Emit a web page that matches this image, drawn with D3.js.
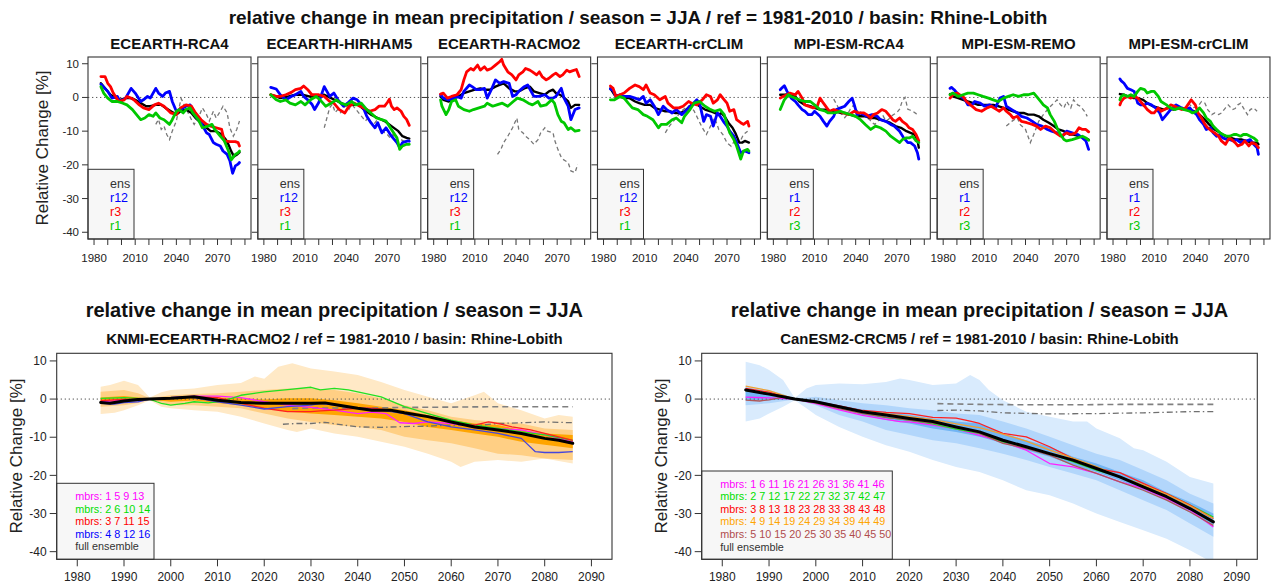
<!DOCTYPE html>
<html><head><meta charset="utf-8">
<script src="https://cdn.jsdelivr.net/npm/d3@7"></script>
<style>
body{margin:0;background:#fff}
svg{display:block}
text{font-family:"Liberation Sans",Arial,Helvetica,sans-serif;fill:#111}
</style>
</head><body>
<svg id="chart" width="1275" height="587"></svg>
<script>
// ---------- axes ----------
const yTicks = [10, 0, -10, -20, -30, -40];
const xTicks = [1980, 1990, 2000, 2010, 2020, 2030, 2040, 2050, 2060, 2070, 2080, 2090];
const topXLabels = [1980, 2010, 2040, 2070];

// ---------- top row: members of the small ensembles ([year, % change]) ----------
const topTitles = ["ECEARTH-RCA4", "ECEARTH-HIRHAM5", "ECEARTH-RACMO2", "ECEARTH-crCLIM",
                   "MPI-ESM-RCA4", "MPI-ESM-REMO", "MPI-ESM-crCLIM"];
const topLabels = [["ens","r12","r3","r1"],["ens","r12","r3","r1"],["ens","r12","r3","r1"],["ens","r12","r3","r1"],
                   ["ens","r1","r2","r3"],["ens","r1","r2","r3"],["ens","r1","r2","r3"]];

const rca4_ens = [[1985,4.2],[1988,2.7],[1992,0.8],[1996,-0.2],[1999,-0.7],[2003,-0.2],[2007,-0.2],[2010,-0.7],[2014,-1.7],[2018,-2.6],[2021,-2.6],[2025,-2.2],[2029,-2.2],[2032,-3.1],[2036,-4.1],[2040,-5.1],[2043,-4.1],[2047,-3.6],[2051,-4.6],[2054,-6.1],[2058,-7.5],[2062,-9],[2065,-10],[2069,-10],[2073,-11],[2076,-12.5],[2078,-14],[2080,-16],[2082,-17.5],[2084,-17],[2086,-16.3]];
const rca4_r12 = [[1985,3.9],[1990,1.8],[1993,-0.2],[1997,0.3],[1999,-1.2],[2003,-0.2],[2007,2.7],[2010,1.3],[2014,-1.2],[2016,-0.7],[2019,0.3],[2021,-0.2],[2025,2.7],[2027,1.3],[2030,0.3],[2032,1.3],[2035,1.8],[2037,-1.2],[2040,-4.1],[2042,-3.6],[2045,-3.1],[2047,-2.6],[2050,-2.2],[2052,-3.6],[2054,-5.6],[2058,-7.5],[2062,-10.5],[2064,-11],[2067,-13.4],[2069,-13.9],[2072,-14.4],[2074,-15.9],[2077,-16.9],[2079,-18.8],[2081,-22.5],[2083,-20.3],[2085,-19.8],[2086,-19.3]];
const rca4_r3 = [[1985,6.2],[1988,6.2],[1990,4.2],[1992,3.2],[1994,1.3],[1998,-1.2],[2002,-0.7],[2004,0.3],[2007,-0.2],[2009,-0.7],[2013,-2.2],[2016,-3.1],[2020,-3.6],[2024,-2.2],[2027,-1.7],[2031,-2.6],[2036,-4.6],[2040,-5.1],[2043,-3.1],[2047,-2.2],[2051,-2.6],[2054,-4.6],[2058,-6.6],[2062,-8],[2065,-8.5],[2069,-9],[2073,-9.5],[2075,-12.9],[2079,-13.1],[2083,-13.1],[2085,-13.4],[2086,-14.4]];
const rca4_r1 = [[1985,3.2],[1987,1.3],[1990,-0.2],[1993,-1.2],[1997,-1.2],[2001,-1.7],[2004,-2.2],[2008,-3.6],[2012,-5.6],[2014,-6.6],[2017,-6.1],[2020,-5.1],[2023,-5.6],[2025,-4.6],[2028,-6.1],[2031,-6.6],[2035,-8],[2037,-6.6],[2040,-4.1],[2042,-3.6],[2045,-4.6],[2047,-3.6],[2050,-3.1],[2052,-4.6],[2056,-6.6],[2059,-9],[2063,-8.5],[2066,-8],[2068,-9.5],[2072,-11.5],[2075,-12.9],[2078,-15.9],[2080,-18.5],[2083,-16.9],[2085,-16.4],[2086,-15.9]];
const rca4_ref = [[2025,-8],[2027,-6.5],[2029,-9.5],[2031,-8.5],[2033,-11],[2035,-12.5],[2037,-10],[2040,-7],[2042,-3],[2043.5,-0.3],[2046,-2.5],[2048,-4.1],[2051,-6.6],[2053,-8],[2057,-5.1],[2059,-3.1],[2062,-5.1],[2064,-7],[2067,-4.1],[2069,-6.1],[2072,-4.1],[2074,-2.6],[2077,-4.6],[2079,-9],[2081.5,-11.5],[2084,-9.5],[2086,-7]];

const hirham_ens = [[1985,0.8],[1989,0.3],[1992,-0.2],[1998,0.3],[2003,0.8],[2008,0.8],[2013,0.3],[2018,0.3],[2024,0.8],[2029,-0.2],[2034,-1.2],[2039,-2.2],[2044,-2.2],[2049,-2.2],[2053,-3.6],[2058,-5.1],[2063,-6.1],[2068,-7],[2073,-8.5],[2078,-10],[2081,-11.5],[2084,-12],[2086,-12.2]];
const hirham_r12 = [[1985,3.0],[1989,2.5],[1992,0.8],[1996,-0.7],[2000,0.3],[2003,0.8],[2007,1.8],[2009,0.3],[2012,-0.7],[2015,-2],[2017,-3.6],[2020,-1.5],[2024,3.2],[2028,0.3],[2031,1.3],[2034,-0.7],[2038,-2.6],[2041,-1.7],[2045,-0.2],[2048,-0.7],[2052,-2.6],[2055,-5.6],[2058,-7.5],[2061,-9],[2063,-7.5],[2066,-10.5],[2069,-9],[2073,-11.5],[2077,-13.4],[2079,-14.9],[2081,-13.4],[2085,-12.9],[2086,-13]];
const hirham_r3 = [[1985,0.8],[1989,0.3],[1992,0.3],[1996,0.8],[2000,1.5],[2003,2.3],[2007,2.7],[2009,3.4],[2012,2.3],[2015,0.8],[2020,0.8],[2024,0.3],[2028,-1.2],[2031,-1.7],[2035,-3.6],[2039,-4.6],[2042,-2.6],[2046,-1.7],[2050,-2.6],[2053,-3.1],[2057,-4.1],[2061,-3.6],[2064,-2.6],[2068,-2.6],[2070,-1.5],[2071.5,-0.5],[2073,-2.6],[2075,-3.6],[2077,-3.1],[2080,-4.1],[2082,-5.6],[2084,-6.5],[2086,-8.3]];
const hirham_r1 = [[1985,0.8],[1989,-0.7],[1992,-1.2],[1996,-0.7],[1999,-1.7],[2003,-2.2],[2007,-1.2],[2010,-2.2],[2014,-0.7],[2018,0.3],[2021,-0.7],[2025,-2.6],[2029,-1.7],[2033,-0.7],[2036,-1.7],[2040,-2.2],[2044,-1.2],[2047,-2.2],[2051,-1.7],[2055,-3.6],[2058,-4.6],[2062,-6.1],[2066,-6.6],[2069,-7],[2073,-9.5],[2077,-12],[2079,-15.4],[2081,-14.4],[2084,-13.9],[2086,-13.9]];
const hirham_ref = [[2024,-9],[2026,-6],[2028,-3],[2030,-2],[2032,-4.5],[2034,-3.5],[2036,-4.5],[2038,-3],[2040,-2.5],[2042,-3.5],[2044,-2],[2046,-3],[2048,-4],[2050,-5],[2052,-6],[2054,-7],[2056,-6],[2058,-7.5],[2060,-8],[2062,-7],[2064,-8.5],[2066,-9.5],[2068,-10.5],[2070,-11],[2072,-12],[2074,-11],[2076,-12.5],[2078,-13],[2080,-12.5],[2082,-13],[2084,-12.5]];

const racmo_ens = [[1985,0.3],[1987,-0.7],[1991,-1.2],[1995,-0.2],[1998,0.3],[2002,1.3],[2006,1.8],[2010,2.3],[2014,2.7],[2017,2.3],[2021,2.3],[2025,3.2],[2028,3.7],[2031,4.2],[2035,2.7],[2039,1.8],[2042,1.8],[2046,2.7],[2050,3.2],[2053,1.8],[2057,1.3],[2061,0.8],[2064,1.8],[2067,2.3],[2069,1.3],[2072,0.8],[2074,0.3],[2078,-1.2],[2080,-3.1],[2083,-2.2],[2086,-2.2]];
const racmo_r12 = [[1985,0.8],[1987,-0.2],[1991,-0.7],[1995,-0.2],[1997,0.3],[2000,-0.2],[2002,1.8],[2006,3.7],[2008,3.2],[2011,2.3],[2014,2.3],[2017,2.7],[2019,-0.2],[2022,2.3],[2025,5.2],[2028,4.2],[2031,4.7],[2035,4.2],[2037.5,0.3],[2040,0.8],[2042,1.8],[2046,3.2],[2048.5,3.7],[2051,1.8],[2053,0.3],[2057,0.3],[2061,0.8],[2064,-0.2],[2067,-0.2],[2069,0.3],[2073,2.7],[2075,-0.2],[2078,-2.6],[2080,-6.6],[2083,-3.6],[2086,-3.1]];
const racmo_r3 = [[1985,1],[1987,1.3],[1990,-0.2],[1993,0.3],[1997,0.8],[2000,2.3],[2002,5.2],[2004,7.6],[2007,8.6],[2009,8.1],[2012,9.6],[2014,8.1],[2017,9.1],[2019,8.1],[2022,8.6],[2025,9.6],[2028,10.6],[2029.6,11.3],[2031,9.6],[2034,7.6],[2037,6.7],[2040,5.2],[2042,6.7],[2045,7.6],[2047,8.6],[2050,8.1],[2052,7.6],[2055,6.7],[2057,7.6],[2059,6.2],[2062,5.2],[2064,5.7],[2067,6.7],[2069,7.2],[2072,6.2],[2074,6.7],[2077,8.1],[2079,7.6],[2081,7.9],[2084,8.3],[2086,6.2]];
const racmo_r1 = [[1985,-0.7],[1986,-2.6],[1989,-5.1],[1991,-3.6],[1993,-1.2],[1996,-0.7],[1998,-2.6],[2002,-3.6],[2006,-4.1],[2009,-3.6],[2013,-3.1],[2017,-2.6],[2019,-1.7],[2023,-2.6],[2026,-2.2],[2030,-1.7],[2034,-2.6],[2038,-1.2],[2041,-0.2],[2045,-0.7],[2049,-1.7],[2052,-2.2],[2056,-1.2],[2058,-2.6],[2062,-2.2],[2066,-0.7],[2068,-1.7],[2070.5,-5.1],[2073,-7.1],[2075,-7.5],[2078,-9.5],[2080,-9],[2083,-10],[2086,-9.8]];
const racmo_ref = [[2026.5,-16.9],[2029,-15.4],[2031,-13.4],[2034,-11.5],[2037.5,-9],[2040.6,-6.1],[2042,-9.5],[2045,-10.5],[2047,-11.5],[2050,-12.5],[2053,-13.9],[2056,-12.5],[2058,-10.5],[2061,-9],[2063,-10],[2067,-10.5],[2068,-12.5],[2070.5,-15.4],[2073,-17.8],[2074,-18.3],[2078,-19.3],[2080,-21.8],[2083,-22.3],[2085,-19.8]];

const crclim_ens = [[1985,2.7],[1988,0.8],[1992,0.3],[1995,-0.2],[1999,-0.2],[2003,-1.2],[2006,-1.7],[2010,-2.2],[2014,-2.2],[2017,-3.1],[2021,-3.6],[2025,-4.1],[2028,-4.1],[2032,-4.6],[2036,-4.6],[2039,-4.1],[2043,-2.6],[2047,-1.7],[2050,-2.6],[2054,-3.6],[2058,-4.1],[2061,-4.6],[2064,-5.1],[2066,-4.6],[2069,-6.1],[2071,-7.5],[2074,-9],[2076,-10.5],[2079,-13.4],[2081,-13.4],[2083,-12.9],[2086,-13.4]];
const crclim_r12 = [[1985,2.5],[1987,2.1],[1989,0.3],[1992,0.8],[1995,0.3],[1999,0.3],[2003,-0.2],[2006,-0.7],[2009,0.3],[2011,-1.7],[2014,-0.7],[2017,-2.6],[2020,-5.1],[2023.5,-2.6],[2026,-3.6],[2030,-4.6],[2033,-3.6],[2037,-5.1],[2041,-3.6],[2043,-2.6],[2045.5,-1.7],[2048,-0.7],[2050,-1.7],[2053,-7.1],[2055,-5.1],[2058,-5.6],[2060,-8.5],[2063,-4.6],[2065,-5.6],[2068,-7.5],[2070,-8.5],[2072,-10],[2075,-11.5],[2077,-13.4],[2080,-16.4],[2083,-15.9],[2086,-16.4]];
const crclim_r3 = [[1985,3.4],[1987,2.7],[1989,0.3],[1992,0.8],[1995,1.3],[1999,2.7],[2003,3.7],[2006,3.2],[2009,2.3],[2011,3.7],[2014,1.3],[2017,0.8],[2021,-0.7],[2025,0.3],[2027,-1.7],[2031,-3.1],[2035,-3.1],[2038,-2.6],[2042,-1.2],[2044,-1.7],[2048,-2.2],[2052,-0.7],[2055,0.8],[2058,0.3],[2060,-1.7],[2063,-0.7],[2065,0.8],[2068,-0.7],[2070,-1.7],[2072,-4.1],[2075,-3.6],[2077,-6.6],[2080,-7.5],[2082,-8],[2085,-7.1],[2086,-8.5]];
const crclim_r1 = [[1985,-0.7],[1988,-0.7],[1992,0.3],[1995,-0.2],[1998,-1.7],[2001,-3.1],[2005,-3.6],[2009,-5.1],[2012,-5.6],[2016,-6.6],[2020,-9],[2022,-8],[2026,-8],[2030,-6.6],[2033,-6.1],[2037,-7.5],[2039,-5.6],[2043,-3.6],[2046,-1.7],[2050,-1.2],[2054,-2.6],[2058,-3.6],[2061,-4.1],[2065,-3.6],[2068,-5.1],[2070,-8],[2072,-10.5],[2075,-12.5],[2077,-14.4],[2080,-18.3],[2082,-15.9],[2085,-15.4],[2086,-15.9]];
const crclim_ref = [[2025,-10.5],[2028,-8.5],[2031,-7],[2034,-5.5],[2037,-4],[2040,-3],[2043,-2.5],[2046,-4],[2049,-6.5],[2052,-9],[2055,-11],[2058,-8.5],[2061,-6],[2064,-9.5],[2067,-11],[2070,-13.5],[2073,-14.5],[2076,-12.5],[2079,-13.5],[2082,-11],[2085,-10]];

const mrca4_ens = [[1985,0.8],[1988,0.8],[1992,1],[1996,0.3],[1999,-1.2],[2003,-2.2],[2007,-2.6],[2010,-3.1],[2014,-3.6],[2018,-3.6],[2021,-4.1],[2025,-4.1],[2029,-4.6],[2032,-4.6],[2036,-5.1],[2040,-5.6],[2043,-5.6],[2047,-5.6],[2051,-6.1],[2054,-6.1],[2058,-6.6],[2062,-7.1],[2065,-7.5],[2069,-8.5],[2073,-9],[2077,-10],[2080,-10.5],[2083,-11],[2085,-12.5],[2086,-14.9]];
const mrca4_r1 = [[1985,2.3],[1986,2.7],[1988,3.5],[1990,1.8],[1993,-0.2],[1996,-1.2],[1998,-2.2],[2001,-3.6],[2003,-4.1],[2005.5,-5.1],[2008,-5.1],[2010,-4.1],[2014,-5.6],[2016.5,-7.1],[2019,-8.5],[2021,-7.1],[2024,-5.6],[2026,-3.6],[2029,-3.1],[2032,-2.6],[2035,-1.2],[2037.4,-0.2],[2039,-2.2],[2041,-5.1],[2043.5,-4.6],[2046,-5.1],[2048,-5.6],[2052,-5.1],[2055.7,-5.6],[2058,-6.6],[2062,-7.1],[2065.5,-8],[2068,-8.5],[2072,-10],[2075,-12],[2078,-13.4],[2080,-13.4],[2083,-14.4],[2085,-16.4],[2086,-18.3]];
const mrca4_r2 = [[1985,-0.2],[1987,0.3],[1990,0.8],[1992,1.3],[1996,0.8],[1998,1.8],[2001,-0.2],[2003,-2.2],[2005.5,-2.6],[2009,-3.1],[2012,-2.6],[2014,-0.2],[2016.5,-1.7],[2019,-3.1],[2021,-4.1],[2024,-3.6],[2027.5,-4.1],[2031,-4.6],[2035,-5.1],[2039,-4.1],[2042,-4.6],[2046,-4.6],[2048,-5.1],[2051,-6.1],[2053,-5.1],[2056,-4.6],[2059,-3.6],[2062,-4.1],[2064,-5.1],[2067,-6.6],[2069,-7.1],[2072,-6.1],[2074,-7.1],[2077,-8],[2079,-9],[2081.5,-9.5],[2084,-11],[2086,-12.9]];
const mrca4_r3 = [[1985,-3.6],[1986,-2.6],[1988,-0.7],[1991,0.8],[1993,0.3],[1996,-0.2],[1999,-0.7],[2003,-1.2],[2007,-1.2],[2010,-2.2],[2014,-3.6],[2018,-4.1],[2020,-4.6],[2025,-4.6],[2029,-4.1],[2032,-4.6],[2036,-5.1],[2040,-5.6],[2043.5,-6.6],[2047,-8],[2051,-9.5],[2054.5,-8.5],[2058,-9],[2062,-10],[2065.5,-11.5],[2069,-12.5],[2072,-13.4],[2074,-12.5],[2077,-12],[2079,-12],[2081.5,-11.5],[2084,-12.9],[2086,-13.4]];
const mrca4_ref = [[2024,-0.5],[2026,-2],[2028,-3.5],[2030,-5],[2032,-6],[2034,-5],[2036,-3.5],[2038,-2.5],[2040,-3],[2042,-4.5],[2044,-5],[2046,-5.5],[2048,-6],[2050,-6.5],[2052,-7.5],[2054,-8],[2056,-7],[2058,-6.5],[2060,-5.5],[2062,-7],[2064,-6.5],[2066,-5.5],[2068,-5],[2070,-4.5],[2072,-3.5],[2074,-1],[2076,0],[2078,-3.5],[2080,-3.8],[2082,-4.2],[2084,-4.8],[2086,-5]];

const mremo_ens = [[1985,1.0],[1987,0.3],[1991,-0.2],[1994.5,-0.7],[1998,-1.2],[2002,-1.7],[2005.5,-2.2],[2009,-2.2],[2013,-2.2],[2016.5,-2.2],[2020,-2.6],[2024,-3.1],[2027.5,-3.6],[2031,-4.1],[2035,-4.6],[2038.6,-4.6],[2042,-5.1],[2046,-5.1],[2049.6,-5.6],[2053,-6.6],[2057,-7.5],[2060.6,-8.5],[2064,-9.5],[2068,-10],[2072,-11],[2075,-11],[2079,-11.5],[2083,-12],[2086,-12.5]];
const mremo_r1 = [[1985,2.7],[1986,3.0],[1988,2.3],[1991,0.8],[1993,0.3],[1996,-0.7],[1998,-2.2],[2001,-2.2],[2003,-1.2],[2007,-1.7],[2010,-2.6],[2014,-2.2],[2018,-3.1],[2021.4,-0.2],[2024,0.3],[2026,-2.6],[2030,-3.6],[2034,-4.6],[2037,-5.6],[2041,-6.1],[2045,-7.1],[2048,-8],[2052,-8.5],[2056,-9.5],[2059,-10],[2063,-10.5],[2067,-11.5],[2070,-10],[2074,-10.5],[2078,-11],[2081.5,-12],[2084,-12.9],[2086,-15.4]];
const mremo_r2 = [[1985,-0.2],[1987,0.8],[1990,1.3],[1992,0.8],[1994.5,0.3],[1997,-1.2],[2001,-2.6],[2004,-3.6],[2008,-4.1],[2012,-3.1],[2015,-2.6],[2019,-3.6],[2021,-4.1],[2024,-3.1],[2026,-4.1],[2029,-5.1],[2031,-6.1],[2034,-5.6],[2037,-7.1],[2041,-7.5],[2045,-8],[2048,-8.5],[2051,-9.5],[2054.5,-8.5],[2058,-9],[2062,-10.5],[2065.5,-11.5],[2068,-11],[2070,-10.5],[2073,-11],[2076.6,-10.5],[2079,-9],[2081.5,-9.5],[2084,-9.5],[2086,-10.2]];
const mremo_r3 = [[1985,0.8],[1987,1.3],[1991,0.3],[1994.5,0.8],[1998,1.3],[2002,1.3],[2005.5,0.8],[2009,0.3],[2013,-0.2],[2016.5,-0.7],[2020,-1.2],[2024,-0.2],[2027.5,0.3],[2031,0.8],[2035,0.3],[2038.6,0.8],[2042,0.8],[2046,1.3],[2048,0.3],[2051,-1.2],[2053,-2.2],[2056,-3.1],[2058,-5.1],[2061,-7.1],[2063,-9],[2065.5,-11],[2068,-12.5],[2070,-12.9],[2074,-12.5],[2078,-12],[2081.5,-11.5],[2084,-12],[2086,-12.7]];
const mremo_ref = [[2026,-8.5],[2030,-7.1],[2034,-6],[2036,-8],[2040,-9.5],[2043.5,-13.4],[2046,-11],[2049.6,-7.1],[2053,-5.1],[2057,-3.1],[2060.6,-1.7],[2063,-0.7],[2065.5,-2.2],[2068,-3.1],[2070,-1.2],[2073,-3.1],[2075,-0.7],[2078,-2.2],[2080,-2.6],[2083,-4.1],[2085,-5.6]];

const mcr_ens = [[1985,1.0],[1988,0.8],[1991,0.3],[1995,-0.2],[1998,-0.2],[2002,-0.7],[2005,-1.7],[2009,-2.6],[2013,-3.1],[2017,-3.6],[2020,-3.1],[2024,-3.6],[2028,-3.1],[2032,-3.6],[2035,-3.6],[2039,-4.1],[2043,-5.1],[2047,-6.6],[2050,-8],[2054,-9.5],[2058,-10.5],[2062,-11.5],[2066,-12],[2070,-12.5],[2074,-12.5],[2077,-12.9],[2081,-13.4],[2085,-13.4],[2086,-13.9]];
const mcr_r1 = [[1985,5.5],[1986,4.9],[1988,4.2],[1990.5,2.7],[1993,2.3],[1995.4,1.8],[1998,-1.7],[2000,-2.2],[2003,-2.2],[2005,-1.7],[2008,-2.2],[2011,-3.1],[2014,-4.6],[2016,-6.6],[2019,-5.1],[2022,-3.6],[2026,-2.2],[2030,-3.1],[2033,-3.6],[2036,-3.1],[2038,-4.1],[2041,-5.1],[2043,-6.6],[2046,-8],[2048,-9.5],[2051,-9],[2053,-10.5],[2055.5,-11.5],[2058,-11],[2060,-12],[2063,-12.5],[2065,-12.5],[2068,-12.9],[2070,-12.5],[2073,-13.4],[2075,-12.9],[2077.5,-12.9],[2080,-12.5],[2082.5,-13.9],[2085,-14.9],[2086,-16.9]];
const mcr_r2 = [[1985,-2.2],[1986,-1.2],[1988,-0.2],[1990.5,0.3],[1993,-0.2],[1995.4,0.3],[1998,-0.2],[2000,-1.2],[2003,-2.6],[2005,-3.6],[2008,-4.6],[2010,-4.6],[2013,-3.1],[2015,-4.1],[2017.5,-3.6],[2020,-3.1],[2022,-2.2],[2025,-2.6],[2027,-3.1],[2030,-3.6],[2033,-3.1],[2037,-0.7],[2040,-2.2],[2042,-4.6],[2044.5,-6.1],[2047,-8],[2049,-9],[2052,-10],[2054,-10.5],[2057,-11.5],[2059,-12.9],[2062,-13.9],[2064,-12.5],[2065,-12],[2069,-13.4],[2071,-14.4],[2074,-13.9],[2076,-12.9],[2079,-14.4],[2081,-13.4],[2084,-13.9],[2086,-14.9]];
const mcr_r3 = [[1985,-0.7],[1986,0.3],[1988,0.8],[1990.5,0.3],[1993,0.8],[1995.4,0.3],[1998,1.8],[2000,2.7],[2003,2.3],[2005,1.3],[2008,1.8],[2010,1.8],[2013,0.3],[2015,-1.2],[2019,-2.2],[2020,-2.6],[2022,-3.1],[2025,-3.6],[2028.5,-3.1],[2032,-3.6],[2036,-4.1],[2038,-4.6],[2041,-4.1],[2043,-3.1],[2046,-4.6],[2048,-6.1],[2051,-7.1],[2053,-8.5],[2055.5,-9.5],[2058,-10.5],[2060,-11],[2063,-11.5],[2065,-11.5],[2068,-11],[2070,-11],[2073,-11.5],[2075,-11],[2077.5,-11],[2080,-11.5],[2082.5,-12],[2085,-12.9]];
const mcr_ref = [[2035,-1.7],[2038,-3.1],[2042,-2.6],[2044.5,-1.2],[2047,-1.7],[2049,-3.6],[2052,-5.1],[2054,-4.6],[2057,-5.1],[2059,-4.6],[2062,-3.1],[2064,-2.2],[2067,-3.6],[2069,-3.3],[2071,-2.2],[2073,-1.7],[2075,-3.1],[2078,-5.1],[2080,-3.6],[2082.5,-3.1],[2085,-4.1]];

// ---------- bottom left: KNMI-ECEARTH-RACMO2 (16 members) ----------
const knmiOuterHi = [[1985,3.2],[1987,3.7],[1990,4.8],[1993,3.7],[1995.5,0.4],[1998,1.8],[2000,2.4],[2005,2.8],[2010,3.7],[2015,4.2],[2018,5.9],[2020,5.3],[2023,8.5],[2026,9.4],[2030,8],[2035,7.2],[2040,6.3],[2045,4.5],[2050,2.4],[2055,0.6],[2060,-1.1],[2065,1],[2067,1.9],[2070,-1.1],[2075,-2.9],[2080,-5.1],[2083,-4.2],[2086,-4.6]];
const knmiOuterLo = [[1985,-3.9],[1988,-3.6],[1990,-2.9],[1993,-1.6],[1995.5,-0.3],[1998,-2],[2000,-2.4],[2005,-2.9],[2010,-3.3],[2015,-4.6],[2020,-6.4],[2025,-8.1],[2027,-8.6],[2030,-7.7],[2035,-9],[2040,-9.9],[2045,-11.2],[2050,-12.5],[2055,-14.3],[2060,-16.4],[2062,-17.8],[2065,-16.4],[2070,-16],[2075,-16.4],[2080,-15.6],[2086,-16.9]];
const knmiMidHi = [[1985,1.9],[1990,2.4],[1993,1.5],[1995.5,0.2],[2000,1],[2005,1.3],[2010,1.5],[2015,1.9],[2020,2.4],[2025,2.8],[2030,2.8],[2035,2.4],[2040,1.5],[2045,0.2],[2050,-1.6],[2055,-2.9],[2060,-4.6],[2065,-5.5],[2070,-6],[2075,-6.4],[2080,-7.7],[2086,-8.1]];
const knmiMidLo = [[1985,-2],[1990,-1.6],[1993,-1],[1995.5,-0.2],[2000,-1.6],[2005,-1.6],[2010,-2],[2015,-2.4],[2020,-3.8],[2025,-5.1],[2030,-6],[2035,-6.8],[2040,-7.3],[2045,-8.1],[2050,-9.9],[2055,-10.8],[2060,-11.6],[2065,-12.9],[2070,-14.3],[2075,-14.7],[2080,-15.6],[2086,-16]];
const knmiInHi = [[1985,0.4],[1990,0.8],[1995.5,0.1],[2000,0.4],[2005,0.8],[2010,0.4],[2015,0.2],[2020,-0.1],[2025,0.2],[2030,0.2],[2035,-0.3],[2040,-1.1],[2045,-2],[2050,-2.9],[2055,-4.2],[2060,-5.5],[2065,-6.4],[2070,-6.8],[2075,-8.1],[2080,-9],[2086,-9.4]];
const knmiInLo = [[1985,-1.1],[1990,-0.7],[1995.5,-0.1],[2000,-0.7],[2005,-0.4],[2010,-1],[2015,-1.6],[2020,-2.4],[2025,-3.3],[2030,-3.8],[2035,-4.2],[2040,-4.6],[2045,-5.1],[2050,-6],[2055,-7.3],[2060,-8.1],[2065,-9],[2070,-9.9],[2075,-11.2],[2080,-12],[2086,-12.9]];
const knmiEns = [[1985,-0.9],[1987,-1.1],[1990,-0.5],[1993,-0.1],[1995.5,0],[2000,0.2],[2005,0.6],[2010,-0.3],[2015,-0.9],[2020,-1.1],[2025,-1.1],[2030,-1.1],[2033,-1],[2036,-1.6],[2040,-2.4],[2043,-2.9],[2047,-2.9],[2050,-3.6],[2055,-4.6],[2060,-6],[2065,-7.3],[2070,-8.1],[2075,-9],[2080,-10.3],[2083,-10.8],[2086,-11.6]];
const knmiGroup1 = [[1985,-0.7],[1990,-0.3],[1995.5,0],[2000,0.4],[2005,0.8],[2010,0.8],[2015,0.4],[2020,-0.7],[2025,-1.6],[2030,-2.2],[2035,-2.9],[2040,-3.8],[2043,-3.4],[2046,-3.8],[2049,-6.2],[2052,-6.4],[2055,-6],[2060,-6.4],[2065,-7.3],[2070,-7.7],[2075,-8.1],[2080,-9.4],[2086,-11.2]];
const knmiGroup2 = [[1985,0.2],[1990,0.4],[1995.5,0],[1997,-0.7],[1998,-1.1],[2000,-1.6],[2003,-1.1],[2005,-0.7],[2008,-1],[2010,-0.7],[2013,0.2],[2015,1],[2020,1.9],[2025,2.5],[2030,3.1],[2032,2.4],[2035,2.8],[2038,2.4],[2040,1.9],[2045,0.6],[2050,-2],[2055,-3.8],[2060,-5.5],[2065,-6.8],[2070,-7.7],[2075,-8.6],[2080,-9.4],[2086,-10.8]];
const knmiGroup3 = [[1985,-0.4],[1990,-0.1],[1995.5,0],[2000,0.2],[2005,0.6],[2010,0.4],[2015,-1.1],[2020,-2.4],[2025,-3.3],[2030,-3.3],[2032,-3.1],[2035,-2.9],[2040,-2.4],[2043,-2.4],[2047,-2.9],[2050,-3.8],[2055,-4.6],[2060,-6],[2063,-6.8],[2065,-6.8],[2068,-6],[2070,-6.4],[2073,-7.3],[2077,-8.1],[2080,-9],[2083,-9.9],[2086,-10.8]];
const knmiGroup4 = [[1985,-1.1],[1988,-1.3],[1990,-0.9],[1993,-0.7],[1995.5,0],[2000,0.4],[2003,0.6],[2005,0.4],[2010,-0.7],[2015,-1.6],[2020,-2.6],[2025,-2],[2030,-1.6],[2032,-1.1],[2035,-1.6],[2040,-2.4],[2045,-2.9],[2050,-3.8],[2055,-6],[2060,-7.3],[2065,-8.1],[2070,-9],[2075,-10.3],[2078,-13.8],[2080,-14],[2083,-14],[2086,-13.8]];
const knmiDashed = [[2026,-2.5],[2030,-2.3],[2040,-2.4],[2050,-2.2],[2060,-2.1],[2070,-2],[2080,-2],[2086,-2]];
const knmiDashDot = [[2024,-6.6],[2027,-6.4],[2030,-6.4],[2033,-6.1],[2037,-6.8],[2040,-7.3],[2045,-7.4],[2050,-7.2],[2055,-7.1],[2060,-6.8],[2065,-7],[2070,-6.4],[2075,-6.2],[2080,-6],[2086,-6.2]];
const knmiLegend = ["mbrs: 1 5 9 13", "mbrs: 2 6 10 14", "mbrs: 3 7 11 15", "mbrs: 4 8 12 16", "full ensemble"];

// ---------- bottom right: CanESM2-CRCM5 (50 members) ----------
const canOuterHi = [[1985,9.8],[1988,8.9],[1990,7.6],[1993,5],[1995.5,0.3],[1998,2.8],[2000,3.7],[2005,4.1],[2010,3.9],[2015,4.5],[2018,5.4],[2020,5],[2025,3.7],[2030,4.1],[2033,6.3],[2035,5],[2037,2.4],[2040,-0.3],[2045,-3.3],[2050,-4.6],[2055,-5.9],[2058,-5.9],[2060,-7.7],[2065,-10.3],[2068,-12.9],[2070,-13.4],[2075,-16.4],[2080,-20.4],[2085,-22.1]];
const canOuterLo = [[1985,-5.9],[1988,-5.1],[1990,-3.8],[1993,-2],[1995.5,-0.3],[1998,-2.4],[2000,-4.2],[2005,-7.3],[2010,-9.9],[2015,-12.1],[2020,-13.8],[2025,-16],[2030,-17.8],[2035,-19.1],[2040,-21.3],[2045,-23.9],[2050,-25.2],[2055,-27.4],[2060,-30],[2065,-32.2],[2070,-34.4],[2075,-36.6],[2080,-39.6],[2085,-43]];
const canMidHi = [[1985,3.2],[1990,2.4],[1993,1.3],[1995.5,0.1],[2000,0.6],[2005,-0.3],[2010,-1.1],[2015,-1.6],[2020,-2.4],[2025,-2.9],[2030,-3.8],[2035,-4.2],[2040,-5.9],[2045,-7.7],[2050,-9.9],[2055,-12.1],[2060,-14.3],[2065,-16],[2070,-18.6],[2075,-21.3],[2080,-24.8],[2085,-27.4]];
const canMidLo = [[1985,-1.6],[1990,-1.1],[1995.5,-0.1],[2000,-1.6],[2005,-4.2],[2010,-5.9],[2015,-8.1],[2020,-9.4],[2025,-10.8],[2030,-11.6],[2035,-12.9],[2040,-14.3],[2045,-16],[2050,-17.8],[2055,-19.5],[2060,-21.3],[2065,-23.9],[2070,-26.5],[2075,-29.1],[2080,-32.6],[2085,-36.1]];
const canInHi = [[1985,1.9],[1990,1.3],[1995.5,0.05],[2000,-0.4],[2005,-1.6],[2010,-2.7],[2015,-3.3],[2020,-4.2],[2025,-5.1],[2030,-5.9],[2035,-6.4],[2040,-9],[2045,-10.8],[2050,-12.5],[2055,-15.1],[2060,-16.9],[2065,-19.1],[2070,-21.3],[2075,-24.4],[2080,-27],[2085,-30]];
const canInLo = [[1985,-0.3],[1990,-0.3],[1995.5,-0.05],[2000,-1],[2005,-2.4],[2010,-4.2],[2015,-5.5],[2020,-6.4],[2025,-7.7],[2030,-8.6],[2035,-9.9],[2040,-11.6],[2045,-13.4],[2050,-15.1],[2055,-17.3],[2060,-19.1],[2065,-21.3],[2070,-23.9],[2075,-26.5],[2080,-29.6],[2085,-33.5]];
const canEns = [[1985,2.4],[1988,1.7],[1990,1.3],[1993,0.6],[1995.5,0],[2000,-0.7],[2005,-2],[2010,-3.3],[2015,-4.2],[2020,-5.1],[2025,-5.9],[2030,-7.3],[2035,-8.6],[2040,-10.8],[2045,-12.5],[2050,-14.3],[2055,-16],[2060,-18.2],[2065,-20.4],[2070,-23],[2075,-25.6],[2080,-28.7],[2085,-32.2]];
const canGroup1 = [[1985,0.5],[1990,0.3],[1995.5,0],[2000,-1.2],[2005,-2.8],[2010,-4.3],[2015,-5.3],[2018,-5.9],[2020,-6],[2025,-6.8],[2030,-7.8],[2035,-9.5],[2040,-11.2],[2045,-13.4],[2048,-15.5],[2050,-16.9],[2055,-17.8],[2060,-19.5],[2065,-21.7],[2070,-23.4],[2075,-26.1],[2080,-29.1],[2085,-33.5]];
const canGroup2 = [[1985,2.2],[1990,1.5],[1995.5,0],[2000,-0.9],[2005,-2.2],[2010,-3.5],[2015,-4.8],[2020,-5.5],[2025,-6.5],[2030,-7.9],[2035,-9],[2040,-11.2],[2045,-12.5],[2050,-14.3],[2055,-16.4],[2060,-18.6],[2065,-20.4],[2070,-22.6],[2075,-24.8],[2080,-27.8],[2085,-30.9]];
const canGroup3 = [[1985,2.8],[1990,1.8],[1995.5,0],[2000,-0.7],[2005,-1.8],[2010,-3],[2015,-3.5],[2020,-3.8],[2025,-4.8],[2030,-5],[2033,-5.8],[2035,-6.4],[2040,-9],[2045,-9.9],[2050,-12.5],[2055,-15.6],[2060,-18.2],[2065,-19.3],[2070,-22.1],[2075,-24.8],[2080,-27.8],[2085,-31.3]];
const canGroup4 = [[1985,3.4],[1990,2.2],[1995.5,0],[2000,-0.9],[2005,-2],[2010,-3.2],[2015,-3.8],[2020,-4.6],[2025,-5.4],[2030,-6.5],[2035,-7.5],[2040,-9.2],[2045,-11],[2050,-13.4],[2055,-15.5],[2060,-17.7],[2065,-20.4],[2070,-22.5],[2075,-25],[2080,-28],[2085,-31.3]];
const canGroup5 = [[1985,-0.3],[1988,-0.5],[1990,-0.2],[1993,0.5],[1995.5,0],[2000,-1],[2005,-2.5],[2010,-3.8],[2015,-4.8],[2020,-5.5],[2025,-6.3],[2030,-7.2],[2035,-9],[2040,-11.6],[2045,-12.9],[2050,-14.7],[2055,-17.3],[2060,-19.5],[2065,-21.7],[2070,-23.9],[2075,-26.5],[2080,-29.6],[2085,-33.1]];
const canDashed = [[2026,-1.2],[2035,-1.4],[2045,-1.5],[2055,-1.5],[2065,-1.4],[2075,-1.4],[2085,-1.4]];
const canDashDot = [[2026,-3],[2030,-2.9],[2035,-3.1],[2040,-3.6],[2050,-3.9],[2060,-3.8],[2070,-3.6],[2080,-3.3],[2085,-3.3]];
const canLegend = ["mbrs: 1 6 11 16 21 26 31 36 41 46", "mbrs: 2 7 12 17 22 27 32 37 42 47",
                   "mbrs: 3 8 13 18 23 28 33 38 43 48", "mbrs: 4 9 14 19 24 29 34 39 44 49",
                   "mbrs: 5 10 15 20 25 30 35 40 45 50", "full ensemble"];

// ---------- drawing ----------
const svg = d3.select("#chart");
const xDomain = [1975.6, 2094.4], yDomain = [-42, 12];
const topSeries = [
  [rca4_ens, rca4_r12, rca4_r3, rca4_r1, rca4_ref],
  [hirham_ens, hirham_r12, hirham_r3, hirham_r1, hirham_ref],
  [racmo_ens, racmo_r12, racmo_r3, racmo_r1, racmo_ref],
  [crclim_ens, crclim_r12, crclim_r3, crclim_r1, crclim_ref],
  [mrca4_ens, mrca4_r1, mrca4_r2, mrca4_r3, mrca4_ref],
  [mremo_ens, mremo_r1, mremo_r2, mremo_r3, mremo_ref],
  [mcr_ens, mcr_r1, mcr_r2, mcr_r3, mcr_ref]
];
const memberColors = ["#000000", "#0000ff", "#ff0000", "#00c800"];
const legendTextColors = ["#333333", "#0000ff", "#ff0000", "#00c800"];

let clipId = 0;
function framePanel(g, x, y, opts) {
  const [x0, x1] = x.range(), [y1, y0] = y.range();
  const id = "clip" + (clipId++);
  svg.append("clipPath").attr("id", id).append("rect")
    .attr("x", x0).attr("y", y0).attr("width", x1 - x0).attr("height", y1 - y0);
  const inner = g.append("g").attr("clip-path", `url(#${id})`);
  const tl = opts.tickLen;
  yTicks.forEach(t => {
    g.append("line").attr("x1", x0 - tl).attr("x2", x0).attr("y1", y(t)).attr("y2", y(t))
      .attr("stroke", "#333").attr("stroke-width", 1);
    if (opts.yLabels) g.append("text").attr("x", x0 - tl - 3).attr("y", y(t)).attr("dy", "0.35em")
      .attr("text-anchor", "end").attr("font-size", opts.tickFont).style("fill", "#222").text(t);
  });
  xTicks.forEach(t => {
    g.append("line").attr("x1", x(t)).attr("x2", x(t)).attr("y1", y1).attr("y2", y1 + tl)
      .attr("stroke", "#333").attr("stroke-width", 1);
  });
  opts.xLabels.forEach(t => {
    g.append("text").attr("x", x(t)).attr("y", opts.xLabelY).attr("text-anchor", "middle")
      .attr("font-size", opts.tickFont).style("fill", "#222").text(t);
  });
  return inner;
}
function zeroLine(g, x, y) {
  g.append("line").attr("x1", x.range()[0]).attr("x2", x.range()[1]).attr("y1", y(0)).attr("y2", y(0))
    .attr("stroke", "#555").attr("stroke-width", 1).attr("stroke-dasharray", "1.3,2.7");
}
function box(g, x, y) {
  const [x0, x1] = x.range(), [y1, y0] = y.range();
  g.append("rect").attr("x", x0).attr("y", y0).attr("width", x1 - x0).attr("height", y1 - y0)
    .attr("fill", "none").attr("stroke", "#333").attr("stroke-width", 1.1);
}

// main title
svg.append("text").attr("x", 638).attr("y", 24).attr("text-anchor", "middle")
  .attr("font-size", 19).attr("font-weight", "bold")
  .text("relative change in mean precipitation / season = JJA / ref = 1981-2010 / basin: Rhine-Lobith");

// y label of the top row
svg.append("text").attr("transform", "translate(48,148) rotate(-90)").attr("text-anchor", "middle")
  .attr("font-size", 17).style("fill", "#222").text("Relative Change [%]");

const topLeft0 = 88, topStep = 169.83, topW = 163, topY0 = 57, topY1 = 239;
topSeries.forEach((series, i) => {
  const left = topLeft0 + topStep * i;
  const x = d3.scaleLinear().domain(xDomain).range([left, left + topW]);
  const y = d3.scaleLinear().domain(yDomain).range([topY1, topY0]);
  const g = svg.append("g");
  const inner = framePanel(g, x, y, {tickLen: 6, yLabels: i === 0, tickFont: 11.5,
                                     xLabels: topXLabels, xLabelY: 262});
  zeroLine(inner, x, y);
  const line = d3.line().x(d => x(d[0])).y(d => y(d[1]));
  inner.append("path").attr("d", line(series[4])).attr("fill", "none").attr("stroke", "#777")
    .attr("stroke-width", 1.3).attr("stroke-dasharray", "4,3");
  [0, 1, 2, 3].forEach(k => {
    inner.append("path").attr("d", line(series[k])).attr("fill", "none")
      .attr("stroke", memberColors[k]).attr("stroke-width", k === 0 ? 2.4 : 2.8)
      .attr("stroke-linejoin", "round").attr("stroke-linecap", "round");
  });
  // legend
  g.append("rect").attr("x", left).attr("y", 169.3).attr("width", 46).attr("height", topY1 - 169.3)
    .attr("fill", "#f7f7f7").attr("stroke", "#333").attr("stroke-width", 1);
  topLabels[i].forEach((lab, k) => {
    g.append("text").attr("x", left + 22).attr("y", 187.5 + k * 14.3).attr("font-size", 12.5)
      .style("fill", legendTextColors[k]).text(lab);
  });
  box(g, x, y);
  g.append("text").attr("x", left + topW / 2).attr("y", 49).attr("text-anchor", "middle")
    .attr("font-size", 15).attr("font-weight", "bold").text(topTitles[i]);
});

// ---------- bottom panels ----------
function bottomPanel(cfg) {
  const x = d3.scaleLinear().domain(xDomain).range([cfg.left, cfg.right]);
  const y = d3.scaleLinear().domain(yDomain).range([559.3, 353.3]);
  const g = svg.append("g");
  const inner = framePanel(g, x, y, {tickLen: 7, yLabels: true, tickFont: 12,
                                     xLabels: xTicks, xLabelY: 581});
  const line = d3.line().x(d => x(d[0])).y(d => y(d[1]));
  // spread bands: upper edge forward, lower edge back
  cfg.bands.forEach(b => {
    inner.append("path").attr("d", line(b.hi.concat(b.lo.slice().reverse())) + "Z")
      .attr("fill", b.color).attr("stroke", "none");
  });
  zeroLine(inner, x, y);
  inner.append("path").attr("d", line(cfg.dashed)).attr("fill", "none").attr("stroke", "#808080")
    .attr("stroke-width", 1.6).attr("stroke-dasharray", "6,4");
  inner.append("path").attr("d", line(cfg.dashDot)).attr("fill", "none").attr("stroke", "#707070")
    .attr("stroke-width", 1.3).attr("stroke-dasharray", "6,3,1.5,3");
  cfg.groups.forEach((s, k) => {
    inner.append("path").attr("d", line(s)).attr("fill", "none").attr("stroke", cfg.groupColors[k])
      .attr("stroke-width", 1.3).attr("stroke-linejoin", "round");
  });
  inner.append("path").attr("d", line(cfg.ens)).attr("fill", "none").attr("stroke", "#000")
    .attr("stroke-width", 3).attr("stroke-linejoin", "round").attr("stroke-linecap", "round");
  // legend
  const lg = cfg.legend;
  g.append("rect").attr("x", cfg.left).attr("y", lg.top).attr("width", lg.width).attr("height", 559.3 - lg.top)
    .attr("fill", "#f7f7f7").attr("stroke", "#333").attr("stroke-width", 1);
  cfg.legendText.forEach((t, k) => {
    g.append("text").attr("x", cfg.left + 18.5).attr("y", lg.firstY + k * 12.6).attr("font-size", 10.8)
      .style("fill", cfg.legendColors[k]).text(t);
  });
  box(g, x, y);
  const cx = (cfg.left + cfg.right) / 2;
  g.append("text").attr("x", cx).attr("y", 317).attr("text-anchor", "middle")
    .attr("font-size", 20).attr("font-weight", "bold")
    .text("relative change in mean precipitation / season = JJA");
  g.append("text").attr("x", cx).attr("y", 344).attr("text-anchor", "middle")
    .attr("font-size", 14.9).attr("font-weight", "bold").text(cfg.subtitle);
  g.append("text").attr("transform", `translate(${cfg.labelX},456) rotate(-90)`).attr("text-anchor", "middle")
    .attr("font-size", 17).style("fill", "#222").text("Relative Change [%]");
}

bottomPanel({
  left: 56.7, right: 612, labelX: 22,
  subtitle: "KNMI-ECEARTH-RACMO2 / ref = 1981-2010 / basin: Rhine-Lobith",
  bands: [
    {hi: knmiOuterHi, lo: knmiOuterLo, color: "#ffe9c6"},
    {hi: knmiMidHi, lo: knmiMidLo, color: "#ffcf84"},
    {hi: knmiInHi, lo: knmiInLo, color: "#ffa500"}
  ],
  dashed: knmiDashed, dashDot: knmiDashDot,
  groups: [knmiGroup1, knmiGroup2, knmiGroup3, knmiGroup4],
  groupColors: ["#ff20ff", "#22e022", "#ff2020", "#4646dc"],
  ens: knmiEns,
  legend: {top: 483.3, width: 97.3, firstY: 500},
  legendText: knmiLegend,
  legendColors: ["#ff00ff", "#00e000", "#ff0000", "#0000ff", "#333333"]
});

bottomPanel({
  left: 701.7, right: 1257.3, labelX: 667,
  subtitle: "CanESM2-CRCM5 / ref = 1981-2010 / basin: Rhine-Lobith",
  bands: [
    {hi: canOuterHi, lo: canOuterLo, color: "#d9ebfd"},
    {hi: canMidHi, lo: canMidLo, color: "#b2d6fb"},
    {hi: canInHi, lo: canInLo, color: "#72b5f4"}
  ],
  dashed: canDashed, dashDot: canDashDot,
  groups: [canGroup1, canGroup2, canGroup3, canGroup4, canGroup5],
  groupColors: ["#ff20ff", "#22dd22", "#ff2020", "#f0a030", "#b05858"],
  ens: canEns,
  legend: {top: 471, width: 190.6, firstY: 487.6},
  legendText: canLegend,
  legendColors: ["#ff00ff", "#00e000", "#ff0000", "#ffa500", "#b04c4c", "#333333"]
});
</script>
</body></html>
